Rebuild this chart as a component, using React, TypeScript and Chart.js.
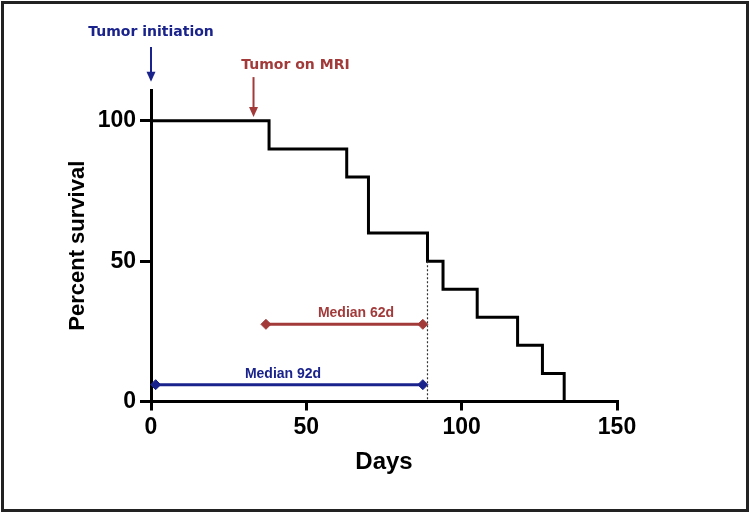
import React, { useEffect, useRef } from 'react';
import { Chart, registerables } from 'chart.js';

Chart.register(...registerables);

// ---- data ----
const survivalDays = [0, 38, 63, 70, 89, 94, 105, 118, 126, 133];
const survivalPct = [100, 90, 80, 60, 50, 40, 30, 20, 10, 0];
const medianDay = 89;
const medianLevel = 50;
const xTicks = [0, 50, 100, 150];
const yTicks = [0, 50, 100];
const xRange = [0, 150];
const yRange = [0, 111];

const mriMedianLabel = 'Median 62d';
const mriMedianSpan = [37, 87.5];
const mriMedianLevel = 27.5;
const initMedianLabel = 'Median 92d';
const initMedianSpan = [1.5, 87.5];
const initMedianLevel = 6;

const initLabel = 'Tumor initiation';
const initDay = 0;
const mriLabel = 'Tumor on MRI';
const mriDay = 33;

// ---- styles ----
const BLUE = '#1a238c';
const RED = '#a23a3a';
const FONT = '"Liberation Sans", Arial, sans-serif';
const CAL = '"Liberation Sans", Arial, sans-serif';
const EVT = '"DejaVu Sans", Verdana, sans-serif';

// annotation placements (data units)
const medianLabels = [
  { text: mriMedianLabel, x: 66, y: mriMedianLevel, color: RED },
  { text: initMedianLabel, x: 42.5, y: initMedianLevel, color: BLUE },
];
const eventMarks = [
  { text: initLabel, day: initDay, textX: 0, textY: 130.4, top: 126.3, tip: 113.9, color: BLUE },
  { text: mriLabel, day: mriDay, textX: 46.5, textY: 118.5, top: 115.6, tip: 101.4, color: RED },
];

const annotationPlugin = {
  id: 'kmAnnotations',
  afterDatasetsDraw(chart: any) {
    const { ctx } = chart;
    const xs = chart.scales.x;
    const ys = chart.scales.y;
    ctx.save();
    ctx.textAlign = 'center';
    ctx.textBaseline = 'alphabetic';
    ctx.font = `bold 14px ${CAL}`;
    for (const m of medianLabels) {
      ctx.fillStyle = m.color;
      ctx.fillText(m.text, xs.getPixelForValue(m.x), ys.getPixelForValue(m.y) - 7);
    }
    for (const e of eventMarks) {
      const px = xs.getPixelForValue(e.day);
      const y1 = ys.getPixelForValue(e.top);
      const y2 = ys.getPixelForValue(e.tip);
      ctx.strokeStyle = e.color;
      ctx.fillStyle = e.color;
      ctx.lineWidth = 2;
      ctx.beginPath();
      ctx.moveTo(px, y1);
      ctx.lineTo(px, y2 - 8);
      ctx.stroke();
      ctx.beginPath();
      ctx.moveTo(px - 4.5, y2 - 10);
      ctx.lineTo(px + 4.5, y2 - 10);
      ctx.lineTo(px, y2);
      ctx.closePath();
      ctx.fill();
      ctx.font = `bold 14px ${EVT}`;
      ctx.fillText(e.text, xs.getPixelForValue(e.textX), ys.getPixelForValue(e.textY));
    }
    ctx.restore();
  },
};

function medianDataset(span: number[], level: number, color: string) {
  return {
    data: span.map((d) => ({ x: d, y: level })),
    borderColor: color,
    backgroundColor: color,
    borderWidth: 3,
    pointStyle: 'rectRot',
    pointRadius: 5,
    pointBorderWidth: 1,
    pointBorderColor: color,
    pointBackgroundColor: color,
    showLine: true,
    clip: false,
  };
}

export default function App() {
  const ref = useRef<HTMLCanvasElement>(null);
  useEffect(() => {
    if (!ref.current) return;
    const chart = new Chart(ref.current, {
      type: 'scatter',
      data: {
        datasets: [
          {
            data: [
              { x: medianDay, y: medianLevel },
              { x: medianDay, y: 0 },
            ],
            borderColor: '#333',
            borderWidth: 1.2,
            borderDash: [2, 2],
            pointRadius: 0,
            showLine: true,
          },
          {
            data: survivalDays.map((d, i) => ({ x: d, y: survivalPct[i] })),
            borderColor: '#000',
            borderWidth: 3,
            pointRadius: 0,
            showLine: true,
            stepped: 'before',
            clip: false,
          },
          medianDataset(mriMedianSpan, mriMedianLevel, RED),
          medianDataset(initMedianSpan, initMedianLevel, BLUE),
        ] as any,
      },
      options: {
        responsive: false,
        animation: false,
        layout: { padding: { left: 0, top: 90, right: 133, bottom: 0 } },
        plugins: { legend: { display: false }, tooltip: { enabled: false } },
        scales: {
          x: {
            type: 'linear',
            min: xRange[0],
            max: xRange[1],
            afterBuildTicks: (s: any) => {
              s.ticks = xTicks.map((v) => ({ value: v }));
            },
            afterFit: (s: any) => {
              s.height = 112.5;
            },
            grid: { drawOnChartArea: false, drawTicks: true, tickLength: 9, color: '#000', lineWidth: 3 },
            border: { display: true, color: '#000', width: 3 },
            ticks: { color: '#000', font: { family: FONT, size: 23, weight: 'bold' }, padding: 3, maxRotation: 0 },
            title: {
              display: true,
              text: 'Days',
              color: '#000',
              font: { family: FONT, size: 24, weight: 'bold' },
              padding: { top: 0, bottom: 37 },
            },
          },
          y: {
            type: 'linear',
            min: yRange[0],
            max: yRange[1],
            afterBuildTicks: (s: any) => {
              s.ticks = yTicks.map((v) => ({ value: v }));
            },
            afterFit: (s: any) => {
              s.width = 151;
            },
            grid: { drawOnChartArea: false, drawTicks: true, tickLength: 11, color: '#000', lineWidth: 3 },
            border: { display: true, color: '#000', width: 3 },
            ticks: { color: '#000', font: { family: FONT, size: 23, weight: 'bold' }, padding: 4 },
            title: {
              display: true,
              text: 'Percent survival',
              color: '#000',
              font: { family: FONT, size: 22, weight: 'bold' },
              padding: { top: 65, bottom: 0 },
            },
          },
        } as any,
      },
      plugins: [annotationPlugin],
    });
    return () => chart.destroy();
  }, []);

  return (
    <div style={{ position: 'absolute', left: 0, top: 0, width: 750, height: 514, background: '#fff' }}>
      <canvas ref={ref} width={750} height={514} style={{ position: 'absolute', left: 0, top: 0, width: 750, height: 514 }} />
      <div
        style={{
          position: 'absolute',
          left: 1,
          top: 1,
          width: 748,
          height: 511,
          boxSizing: 'border-box',
          border: '3px solid #222',
          pointerEvents: 'none',
        }}
      />
    </div>
  );
}
